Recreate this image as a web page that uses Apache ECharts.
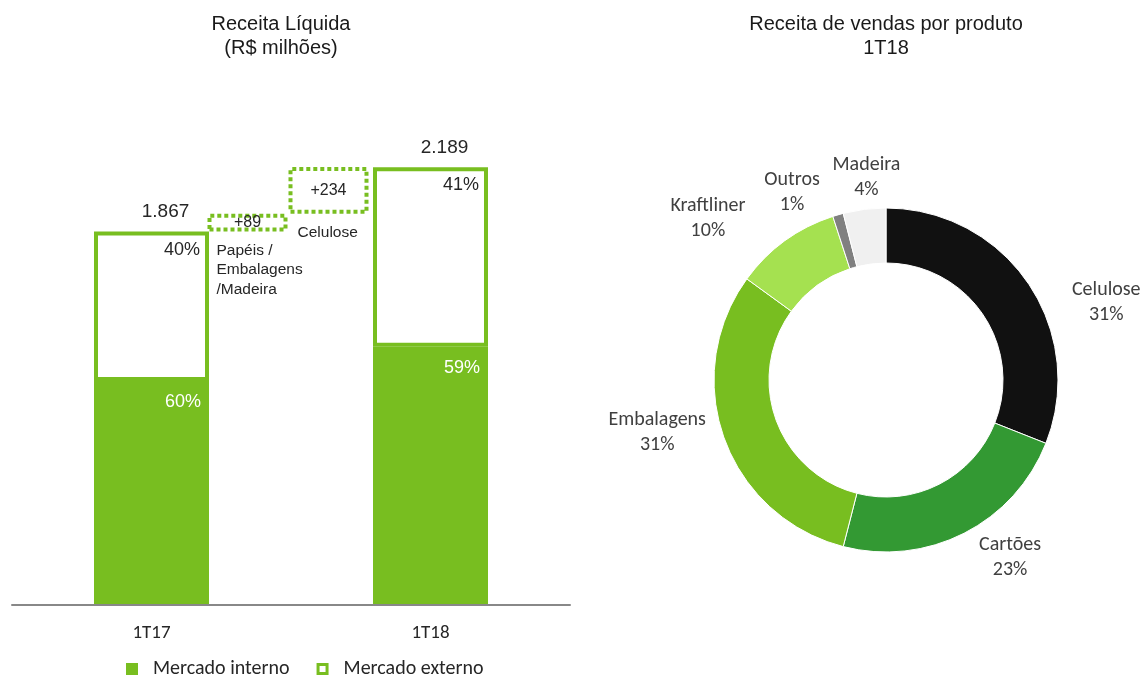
<!DOCTYPE html>
<html>
<head>
<meta charset="utf-8">
<script src="https://cdn.jsdelivr.net/npm/echarts@6/dist/echarts.min.js"></script>
<style>
  html, body { margin: 0; padding: 0; background: #fff; }
  #chart { width: 1144px; height: 677px; }
</style>
</head>
<body>
<div id="chart"></div>
<script>
// receita liquida (R$ milhoes)
let periods = ['1T17', '1T18'];
let totals = [1867, 2189];
let shareInterno = [60, 59];
let shareExterno = [40, 41];

// ponte entre os periodos
let bridgeLabels = ['+89', '+234'];
let bridgeValues = [89, 234];
let bridgeNotes = ['Papéis /\nEmbalagens\n/Madeira', 'Celulose'];

// receita de vendas por produto 1T18
let products = ['Celulose', 'Cartões', 'Embalagens', 'Kraftliner', 'Outros', 'Madeira'];
let productShare = [31, 23, 31, 10, 1, 4];

const GREEN = '#78be20';
const ARIAL = 'Liberation Sans, Arial, sans-serif';
const CALIBRI = 'Carlito, Lato, sans-serif';
let productColors = ['#111111', '#339933', '#78be20', '#a5e150', '#808080', '#f0f0f0'];
// small nudges so the pie labels sit where the original put them
let pieLabelNudge = [[73, 19], [41, 24], [-62, -6], [-72, -22], [-41, -22], [7, -32]];

let chart = echarts.init(document.getElementById('chart'));

// 6 slots on the left axis, the two periods sit in slot 1 and 4
let slots = ['', periods[0], '', '', periods[1], ''];
let periodSlot = [1, 4];
let toSlots = (vals) => {
  let arr = slots.map(() => '-');
  periodSlot.forEach((s, i) => { arr[s] = vals[i]; });
  return arr;
};
let internoValues = totals.map((t, i) => t * shareInterno[i] / 100);
let externoValues = totals.map((t, i) => t * shareExterno[i] / 100);
let bridgeBase = bridgeValues.map((v, i) => totals[0] + bridgeValues.slice(0, i).reduce((a, b) => a + b, 0));
let fmtThousands = (v) => String(v).replace(/\B(?=(\d{3})+(?!\d))/g, '.');
let periodOf = (p) => periodSlot.indexOf(p.dataIndex);

let option = {
  animation: false,
  title: [
    {
      text: 'Receita Líquida\n(R$ milhões)',
      left: 281, top: 12, padding: 0, textAlign: 'center',
      textStyle: { fontFamily: ARIAL, fontSize: 20, fontWeight: 'normal', lineHeight: 24, color: '#1a1a1a' }
    },
    {
      text: 'Receita de vendas por produto\n1T18',
      left: 886, top: 12, padding: 0, textAlign: 'center',
      textStyle: { fontFamily: ARIAL, fontSize: 20, fontWeight: 'normal', lineHeight: 24, color: '#1a1a1a' }
    }
  ],
  legend: {
    left: 126, top: 659, padding: 0,
    itemWidth: 12, itemHeight: 12, itemGap: 27,
    textStyle: { fontFamily: CALIBRI, fontSize: 20, color: '#262626', padding: [0, 0, 0, 10] },
    data: [
      { name: 'Mercado interno', icon: 'rect', itemStyle: { color: GREEN, borderWidth: 0 } },
      { name: 'Mercado externo', icon: 'path://M0,0H12V12H0Z M3,3V9H9V3Z', itemStyle: { color: GREEN, borderWidth: 0 } }
    ]
  },
  grid: [
    { left: 12, width: 558, top: 125, bottom: 72 },
    { left: 207, width: 162, top: 125, bottom: 72 }
  ],
  xAxis: [
    {
      type: 'category', gridIndex: 0, data: slots, z: 5,
      axisLine: { lineStyle: { color: '#888', width: 2 } },
      axisTick: { show: false },
      axisLabel: { margin: 19, fontFamily: CALIBRI, fontSize: 19, color: '#262626' }
    },
    { type: 'category', gridIndex: 1, data: bridgeLabels, show: false }
  ],
  yAxis: [
    { type: 'value', gridIndex: 0, min: 0, max: 2400, show: false },
    { type: 'value', gridIndex: 1, min: 0, max: 2400, show: false }
  ],
  series: [
    {
      name: 'Mercado interno', type: 'bar', xAxisIndex: 0, yAxisIndex: 0,
      stack: 'mercado', barWidth: 115, barGap: '-100%',
      data: toSlots(internoValues),
      itemStyle: { color: GREEN, borderColor: GREEN, borderWidth: 4 },
      label: {
        show: true, position: 'insideTopRight', distance: 8, offset: [0, 4],
        fontFamily: ARIAL, fontSize: 18, color: '#fff',
        formatter: (p) => shareInterno[periodOf(p)] + '%'
      }
    },
    {
      name: 'Mercado externo', type: 'bar', xAxisIndex: 0, yAxisIndex: 0,
      stack: 'mercado', barWidth: 115, barGap: '-100%',
      data: toSlots(externoValues),
      itemStyle: { color: '#fff', borderColor: GREEN, borderWidth: 4 },
      label: {
        show: true, position: 'insideTopRight', distance: 9,
        fontFamily: ARIAL, fontSize: 18, color: '#262626',
        formatter: (p) => shareExterno[periodOf(p)] + '%'
      }
    },
    {
      name: 'Total', type: 'bar', xAxisIndex: 0, yAxisIndex: 0,
      barWidth: 115, barGap: '-100%', silent: true, z: 1,
      data: toSlots(totals),
      itemStyle: { color: 'rgba(0,0,0,0)' },
      label: {
        show: true, position: 'top', distance: 10, offset: [14, 0],
        fontFamily: ARIAL, fontSize: 19, color: '#262626',
        formatter: (p) => fmtThousands(p.value)
      }
    },
    {
      name: 'Base', type: 'bar', xAxisIndex: 1, yAxisIndex: 1,
      stack: 'ponte', barWidth: 80, silent: true,
      data: bridgeBase,
      itemStyle: { color: 'rgba(0,0,0,0)' },
      label: {
        show: true, position: 'insideTopLeft', distance: 9,
        fontFamily: ARIAL, fontSize: 15.5, lineHeight: 19.5, color: '#262626', align: 'left',
        formatter: (p) => bridgeNotes[p.dataIndex]
      }
    },
    {
      name: 'Variação', type: 'bar', xAxisIndex: 1, yAxisIndex: 1,
      stack: 'ponte', barWidth: 80,
      data: bridgeValues,
      itemStyle: { color: 'rgba(0,0,0,0)', borderColor: GREEN, borderWidth: 4, borderType: [4, 3] },
      label: {
        show: true, position: 'inside',
        fontFamily: ARIAL, fontSize: 16, color: '#262626',
        formatter: (p) => bridgeLabels[p.dataIndex]
      }
    },
    {
      name: 'Produto', type: 'pie',
      center: [886, 380], radius: [117, 172],
      startAngle: 90, clockwise: true, avoidLabelOverlap: false,
      itemStyle: { borderColor: '#fff', borderWidth: 1 },
      label: {
        show: true, position: 'outside',
        fontFamily: CALIBRI, fontSize: 20, lineHeight: 25, color: '#404040',
        formatter: (p) => p.name + '\n' + p.value + '%'
      },
      labelLine: { show: false, length: 0, length2: 0 },
      labelLayout: (params) => {
        let n = pieLabelNudge[params.dataIndex];
        return { align: 'center', dx: n[0], dy: n[1] };
      },
      data: products.map((name, i) => ({
        name: name, value: productShare[i], itemStyle: { color: productColors[i] }
      }))
    }
  ]
};

chart.setOption(option);
</script>
</body>
</html>
